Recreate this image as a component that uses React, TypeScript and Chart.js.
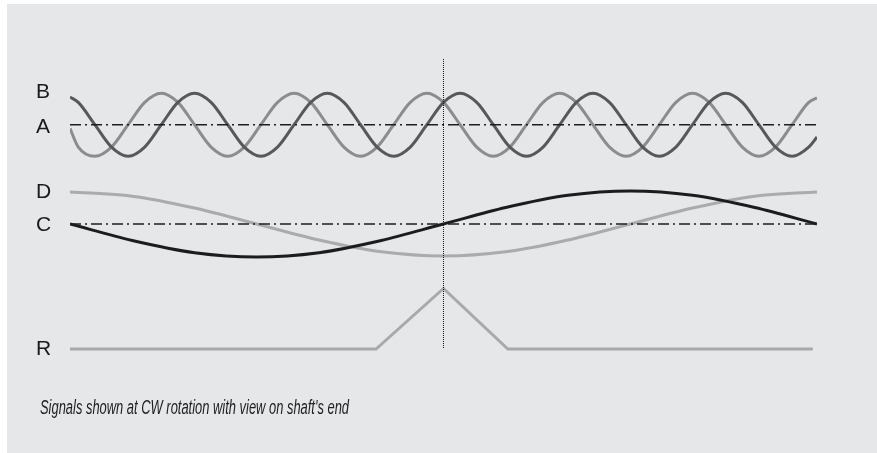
import React, { useEffect, useRef } from "react";
import { Chart, registerables } from "chart.js";

Chart.register(...registerables);

// Shaft angle (degrees) at which the fast signals A and B were read
const AB_ANGLES = [
  0, 4, 12, 20, 28, 36, 44, 52, 60, 68, 76, 84, 92, 100, 108, 116, 124, 132, 140, 148,
  156, 164, 172, 180, 188, 196, 204, 212, 220, 228, 236, 244, 252, 260, 268, 276, 284,
  292, 300, 308, 316, 324, 332, 340, 348, 356, 360,
];
// Normalised amplitude of signal A (light grey)
const SIGNAL_A = [
  -0.12,
  -0.71, -1, -0.71, 0, 0.71, 1, 0.71, 0,
  -0.71, -1, -0.71, 0, 0.71, 1, 0.71, 0,
  -0.71, -1, -0.71, 0, 0.71, 1, 0.71, 0,
  -0.71, -1, -0.71, 0, 0.71, 1, 0.71, 0,
  -0.71, -1, -0.71, 0, 0.71, 1, 0.71, 0,
  -0.71, -1, -0.71, 0, 0.71,
  0.85,
];
// Normalised amplitude of signal B (dark grey)
const SIGNAL_B = [
  0.88,
  0.71, 0, -0.71, -1, -0.71, 0, 0.71, 1,
  0.71, 0, -0.71, -1, -0.71, 0, 0.71, 1,
  0.71, 0, -0.71, -1, -0.71, 0, 0.71, 1,
  0.71, 0, -0.71, -1, -0.71, 0, 0.71, 1,
  0.71, 0, -0.71, -1, -0.71, 0, 0.71, 1,
  0.71, 0, -0.71, -1, -0.71,
  -0.39,
];

// Slow signals C and D (one period per revolution)
const CD_ANGLES = [0, 30, 60, 90, 120, 150, 180, 210, 240, 270, 300, 330, 360];
const SIGNAL_C = [0, -0.5, -0.87, -1, -0.87, -0.5, 0, 0.5, 0.87, 1, 0.87, 0.5, 0];
const SIGNAL_D = [1, 0.87, 0.5, 0, -0.5, -0.87, -1, -0.87, -0.5, 0, 0.5, 0.87, 1];

// Reference pulse R
const R_ANGLES = [0, 147.5, 180, 211, 358];
const SIGNAL_R = [0, 0, 1, 0, 0];

// Channel labels and the level (axis units) where each is written
const CHANNEL_LABELS = ["B", "A", "D", "C", "R"];
const LABEL_LEVELS = [92, 127, 192, 225, 349];

// Reference angle marked by the dotted line
const MARK_ANGLE = [180];

const CAPTION = "Signals shown at CW rotation with view on shaft's end";

// Channel baselines / amplitudes on the vertical axis
const BASE_AB = 124.7;
const AMP_AB = 31.5;
const BASE_CD = 224;
const AMP_C = 33;
const AMP_D = 32;
const BASE_R = 349;
const AMP_R = 60.5;
const MARK_RANGE = [59, 348];

const pts = (xs: number[], vs: number[], base: number, amp: number) =>
  xs.map((x, i) => ({ x, y: base - amp * vs[i] }));

const captionPlugin = {
  id: "caption",
  afterDraw(chart: any) {
    const ctx = chart.ctx;
    ctx.save();
    ctx.font = 'italic 20px "Liberation Sans Narrow", "Liberation Sans", sans-serif';
    ctx.fillStyle = "#1e1e1e";
    ctx.textBaseline = "alphabetic";
    ctx.textAlign = "left";
    ctx.fillText(CAPTION, 40, 414, 309);
    ctx.restore();
  },
};

export default function App() {
  const ref = useRef<HTMLCanvasElement | null>(null);

  useEffect(() => {
    if (!ref.current) return;
    const dashDot = [11, 4, 2, 4];
    const chart = new Chart(ref.current, {
      type: "line",
      data: {
        datasets: [
          {
            label: "mark",
            data: MARK_RANGE.map((y) => ({ x: MARK_ANGLE[0], y })),
            borderColor: "#1a1a1a",
            borderWidth: 1,
            borderDash: [1, 1],
            pointRadius: 0,
          },
          {
            label: "A/B zero",
            data: [
              { x: 0, y: BASE_AB },
              { x: 360, y: BASE_AB },
            ],
            borderColor: "#1e1e1e",
            borderWidth: 1.6,
            borderDash: dashDot,
            pointRadius: 0,
          },
          {
            label: "C/D zero",
            data: [
              { x: 0, y: BASE_CD },
              { x: 360, y: BASE_CD },
            ],
            borderColor: "#1e1e1e",
            borderWidth: 1.6,
            borderDash: dashDot,
            pointRadius: 0,
          },
          {
            label: "C",
            data: pts(CD_ANGLES, SIGNAL_C, BASE_CD, AMP_C),
            borderColor: "#1c1c1c",
            borderWidth: 3,
            pointRadius: 0,
            cubicInterpolationMode: "monotone",
          },
          {
            label: "D",
            data: pts(CD_ANGLES, SIGNAL_D, BASE_CD, AMP_D),
            borderColor: "#ababab",
            borderWidth: 3,
            pointRadius: 0,
            cubicInterpolationMode: "monotone",
          },
          {
            label: "B",
            data: pts(AB_ANGLES, SIGNAL_B, BASE_AB, AMP_AB),
            borderColor: "#58585a",
            borderWidth: 3,
            pointRadius: 0,
            cubicInterpolationMode: "monotone",
          },
          {
            label: "A",
            data: pts(AB_ANGLES, SIGNAL_A, BASE_AB, AMP_AB),
            borderColor: "#8c8c8e",
            borderWidth: 3,
            pointRadius: 0,
            cubicInterpolationMode: "monotone",
          },
          {
            label: "R",
            data: pts(R_ANGLES, SIGNAL_R, BASE_R, AMP_R),
            borderColor: "#a9a9a9",
            borderWidth: 3,
            pointRadius: 0,
            tension: 0,
          },
        ],
      },
      options: {
        animation: false,
        responsive: false,
        devicePixelRatio: 1,
        layout: { padding: { left: 36, right: 60, top: 0, bottom: 0 } },
        plugins: {
          legend: { display: false },
          tooltip: { enabled: false },
          title: { display: false },
        },
        scales: {
          x: { type: "linear", min: 0, max: 360, display: false },
          y: {
            type: "linear",
            min: 0,
            max: 453,
            reverse: true,
            grid: { display: false },
            border: { display: false },
            afterBuildTicks: (s: any) => {
              s.ticks = LABEL_LEVELS.map((v) => ({ value: v }));
            },
            afterFit: (s: any) => {
              s.width = 34;
              s.paddingTop = 0;
              s.paddingBottom = 0;
            },
            ticks: {
              autoSkip: false,
              padding: 0,
              crossAlign: "far",
              color: "#1a1a1a",
              font: { family: '"Liberation Sans", Arial, sans-serif', size: 21 },
              callback: (_v: any, i: number) => CHANNEL_LABELS[i],
            },
          },
        },
      },
      plugins: [captionPlugin],
    } as any);
    return () => chart.destroy();
  }, []);

  return (
    <div style={{ position: "fixed", left: 0, top: 0, width: 877, height: 453, background: "#ffffff" }}>
      <div
        style={{ position: "absolute", left: 7, top: 4, width: 870, height: 449, background: "#e6e7e9" }}
      />
      <canvas
        ref={ref}
        width={877}
        height={453}
        style={{ position: "absolute", left: 0, top: 0, display: "block" }}
      />
    </div>
  );
}
